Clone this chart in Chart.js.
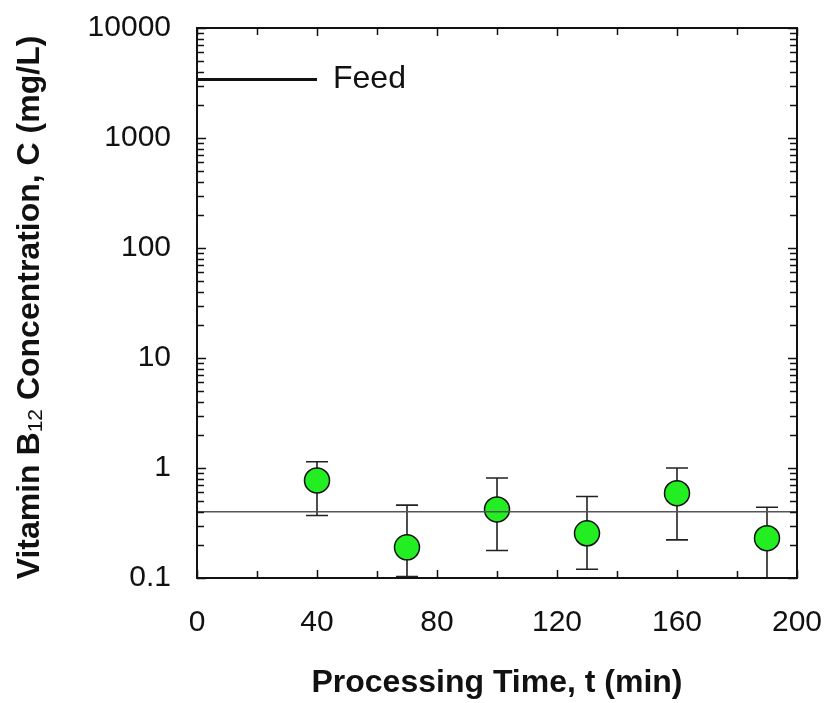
<!DOCTYPE html>
<html><head><meta charset="utf-8">
<script src="https://cdn.jsdelivr.net/npm/chart.js@4.4.0/dist/chart.umd.min.js"></script>
<style>html,body{margin:0;padding:0;background:#fff}#wrap{width:826px;height:703px;position:relative}</style>
</head><body><div id="wrap"><canvas id="c"></canvas></div>
<script>
// ---- data ----
const times = [40, 70, 100, 130, 160, 190];
const conc = [0.77, 0.19, 0.42, 0.255, 0.59, 0.23];
const errHigh = [1.14, 0.46, 0.81, 0.55, 1.0, 0.44];
const errLow = [0.37, 0.103, 0.178, 0.12, 0.222, 0.09];
const feedLevel = 3400;
const feedSpan = [0, 40];
const feedLabel = 'Feed';
const meanLevel = 0.40;
const meanSpan = [0, 200];
const xTicks = [0, 40, 80, 120, 160, 200];
const yTicks = [0.1, 1, 10, 100, 1000, 10000];
const yTickLabels = ['0.1', '1', '10', '100', '1000', '10000'];
const xTitle = 'Processing Time, t (min)';
const yTitleParts = ['Vitamin B', '12', ' Concentration, C (mg/L)'];

const FONT = "'Liberation Sans', Arial, Helvetica, sans-serif";

const decor = {
  id: 'decor',
  beforeDatasetsDraw(chart) {
    const ctx = chart.ctx, xs = chart.scales.x, ys = chart.scales.y, ca = chart.chartArea;
    ctx.save();
    ctx.beginPath();
    ctx.rect(ca.left, ca.top, ca.right - ca.left, ca.bottom - ca.top);
    ctx.clip();
    ctx.strokeStyle = '#222';
    ctx.lineWidth = 1.6;
    times.forEach((t, i) => {
      const x = xs.getPixelForValue(t);
      const yh = ys.getPixelForValue(errHigh[i]);
      const yl = ys.getPixelForValue(errLow[i]);
      ctx.beginPath();
      ctx.moveTo(x, yh); ctx.lineTo(x, yl);
      ctx.moveTo(x - 11, yh); ctx.lineTo(x + 11, yh);
      ctx.moveTo(x - 11, yl); ctx.lineTo(x + 11, yl);
      ctx.stroke();
    });
    ctx.restore();
  },
  afterDraw(chart) {
    const ctx = chart.ctx, xs = chart.scales.x, ys = chart.scales.y, ca = chart.chartArea;
    ctx.save();
    ctx.strokeStyle = '#111';
    // ticks
    ctx.lineWidth = 1.5;
    ctx.beginPath();
    for (let v = 0; v <= 200; v += 20) {
      const x = Math.round(xs.getPixelForValue(v)) + 0.5;
      const len = (v % 40 === 0) ? 8 : 7;
      ctx.moveTo(x, ca.bottom); ctx.lineTo(x, ca.bottom - len);
      ctx.moveTo(x, ca.top); ctx.lineTo(x, ca.top + len);
    }
    for (let d = -1; d <= 4; d++) {
      for (let m = 1; m <= 9; m++) {
        const v = m * Math.pow(10, d);
        if (v > 10000 + 1e-6) continue;
        const y = Math.round(ys.getPixelForValue(v)) + 0.5;
        const len = (m === 1) ? 9 : 7;
        ctx.moveTo(ca.left, y); ctx.lineTo(ca.left + len, y);
        ctx.moveTo(ca.right, y); ctx.lineTo(ca.right - len, y);
      }
    }
    ctx.stroke();
    // frame
    ctx.lineWidth = 2;
    ctx.strokeRect(ca.left, ca.top, ca.right - ca.left, ca.bottom - ca.top);
    // feed label
    ctx.fillStyle = '#111';
    ctx.font = '32px ' + FONT;
    ctx.textAlign = 'left';
    ctx.textBaseline = 'middle';
    ctx.fillText(feedLabel, xs.getPixelForValue(feedSpan[1]) + 16, ys.getPixelForValue(feedLevel));
    // x title
    ctx.font = 'bold 32px ' + FONT;
    ctx.textAlign = 'center';
    ctx.textBaseline = 'alphabetic';
    ctx.fillText(xTitle, (ca.left + ca.right) / 2, 692);
    // y title (rotated, with subscript)
    const fBig = 'bold 32px ' + FONT, fSub = '21px ' + FONT;
    ctx.font = fBig; const w0 = ctx.measureText(yTitleParts[0]).width;
    const w2 = ctx.measureText(yTitleParts[2]).width;
    ctx.font = fSub; const w1 = ctx.measureText(yTitleParts[1]).width;
    const total = w0 + w1 + w2;
    ctx.translate(38.5, 307.5);
    ctx.rotate(-Math.PI / 2);
    ctx.textAlign = 'left';
    let cx = -total / 2;
    ctx.font = fBig; ctx.fillText(yTitleParts[0], cx, 0); cx += w0;
    ctx.font = fSub; ctx.fillText(yTitleParts[1], cx, 3); cx += w1;
    ctx.font = fBig; ctx.fillText(yTitleParts[2], cx, 0);
    ctx.restore();
  }
};

function noPad(s) { s.paddingTop = 0; s.paddingBottom = 0; s.paddingLeft = 0; s.paddingRight = 0; }

new Chart(document.getElementById('c'), {
  type: 'scatter',
  data: {
    datasets: [
      {
        type: 'line', label: feedLabel,
        data: feedSpan.map(x => ({ x: x, y: feedLevel })),
        borderColor: '#111', borderWidth: 3, pointRadius: 0, fill: false
      },
      {
        type: 'line', label: 'mean',
        data: meanSpan.map(x => ({ x: x, y: meanLevel })),
        borderColor: '#555', borderWidth: 1.5, pointRadius: 0, fill: false
      },
      {
        label: 'C',
        data: times.map((t, i) => ({ x: t, y: conc[i] })),
        pointRadius: 12.5, pointHoverRadius: 12.5,
        backgroundColor: '#22EE22', borderColor: '#111', borderWidth: 1.5
      }
    ]
  },
  options: {
    responsive: true, maintainAspectRatio: false, animation: false,
    layout: { padding: { left: 0, top: 28, right: 29, bottom: 0 } },
    plugins: { legend: { display: false }, tooltip: { enabled: false } },
    scales: {
      x: {
        type: 'linear', min: 0, max: 200,
        afterBuildTicks: s => { s.ticks = xTicks.map(v => ({ value: v })); },
        afterFit: s => { s.height = 125; noPad(s); },
        grid: { display: false, drawTicks: false }, border: { display: false },
        ticks: { color: '#111', font: { family: FONT, size: 30 }, padding: 27, maxRotation: 0, autoSkip: false }
      },
      y: {
        type: 'logarithmic', min: 0.1, max: 10000,
        afterBuildTicks: s => { s.ticks = yTicks.map(v => ({ value: v })); },
        afterFit: s => { s.width = 197; noPad(s); },
        grid: { display: false, drawTicks: false }, border: { display: false },
        ticks: { color: '#111', font: { family: FONT, size: 30 }, padding: 26, autoSkip: false,
          callback: (v, i) => yTickLabels[i] }
      }
    }
  },
  plugins: [decor]
});
</script>
</body></html>
